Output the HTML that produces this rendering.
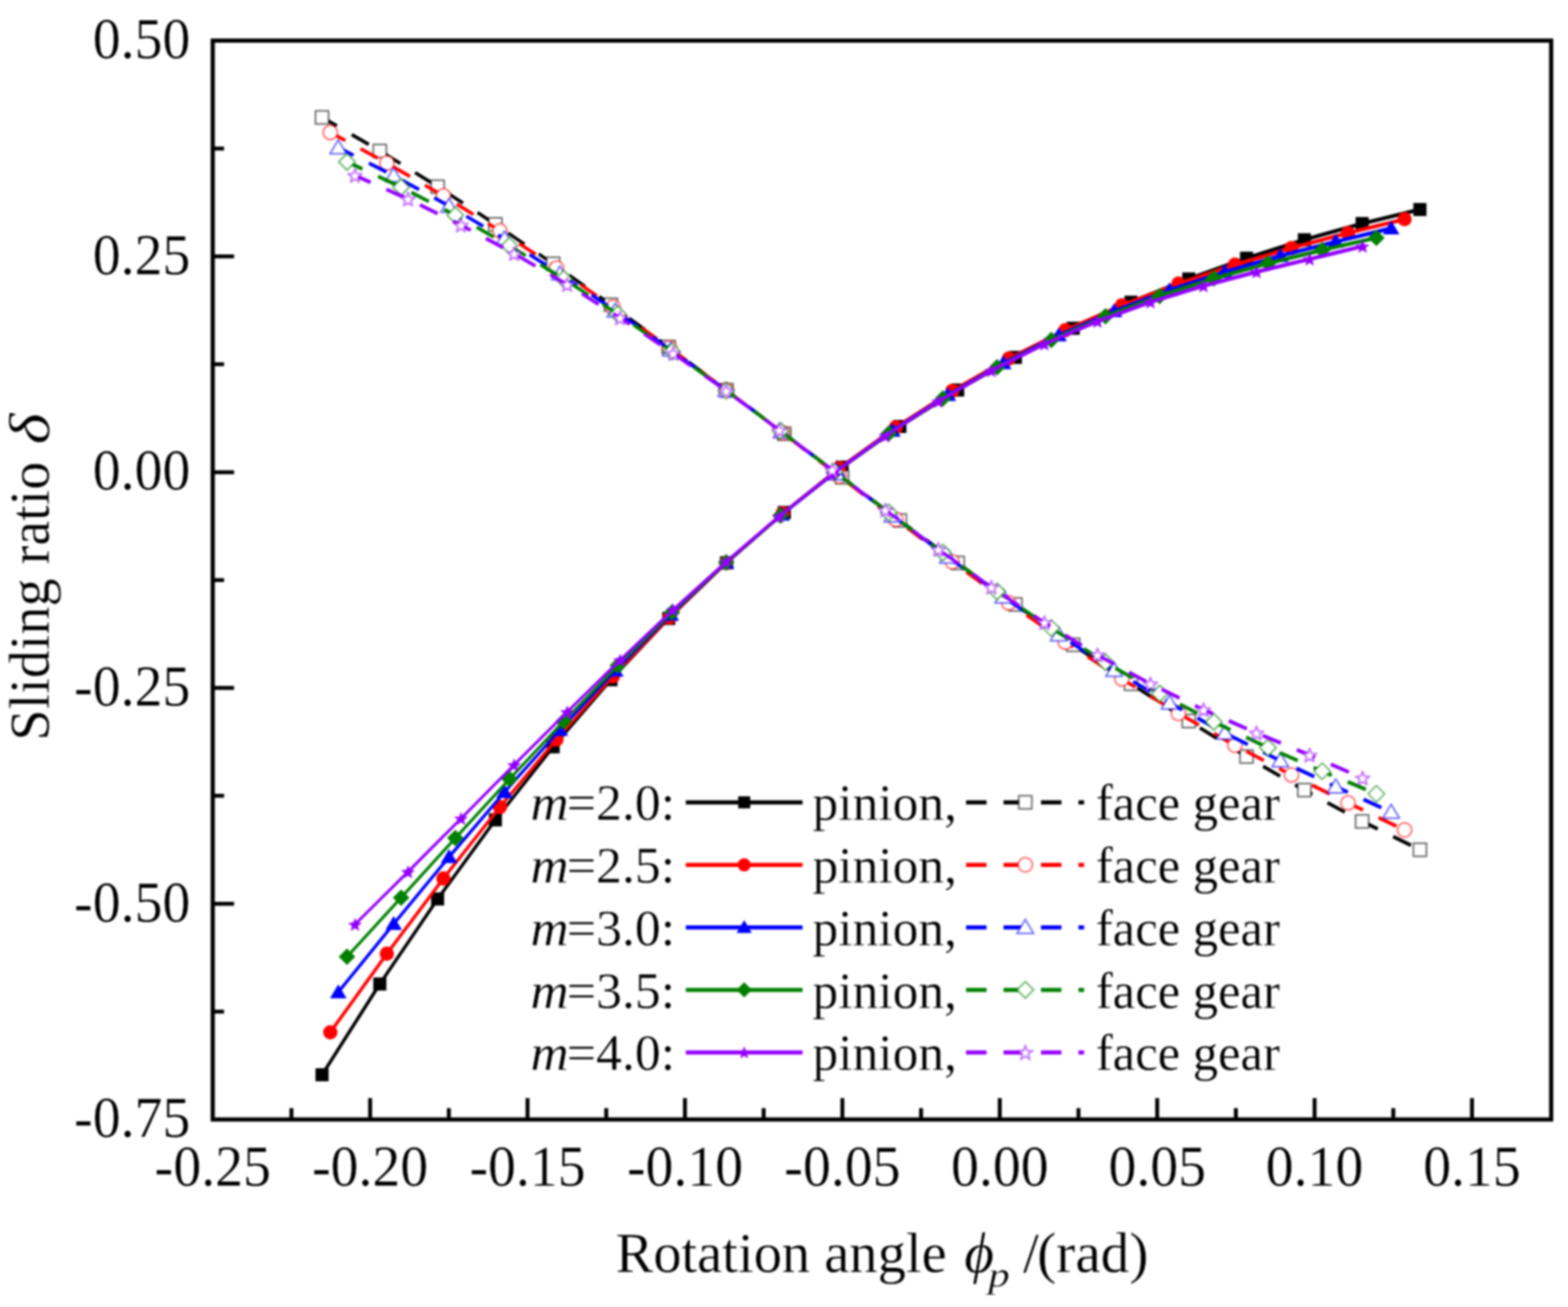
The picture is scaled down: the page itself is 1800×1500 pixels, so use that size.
<!DOCTYPE html>
<html lang="en"><head><meta charset="utf-8"><title>Sliding ratio vs rotation angle</title>
<style>html,body{margin:0;padding:0;background:#fff}body{width:1800px;height:1500px;overflow:hidden}svg{display:block;filter:blur(0.9px)}</style>
</head><body>
<svg width="1800" height="1500" viewBox="0 0 1800 1500">
<rect width="1800" height="1500" fill="#fff"/>
<g fill="none" stroke-linejoin="round">
<g stroke="#000000" stroke-linecap="butt"><path d="M369.7 1233.5L436 1129.3" stroke-width="3.88"/><path d="M436 1129.3L502.4 1031.7" stroke-width="3.8"/><path d="M502.4 1031.7L568.7 940.9" stroke-width="3.71"/><path d="M568.7 940.9L635 857.1" stroke-width="3.61"/><path d="M635 857.1L701.4 780.1" stroke-width="3.49"/><path d="M701.4 780.1L767.7 709.8" stroke-width="3.35"/><path d="M767.7 709.8L834 645.9" stroke-width="3.31"/><path d="M834 645.9L900.4 588.1" stroke-width="3.47"/><path d="M900.4 588.1L966.7 536.1" stroke-width="3.62"/><path d="M966.7 536.1L1033 489.4" stroke-width="3.76"/><path d="M1033 489.4L1099.3 447.6" stroke-width="3.89"/><path d="M1099.3 447.6L1165.7 410.2" stroke-width="4.01"/><path d="M1165.7 410.2L1232 376.7" stroke-width="4.11"/><path d="M1232 376.7L1298.3 346.8" stroke-width="4.19"/><path d="M1298.3 346.8L1364.7 320.1" stroke-width="4.27"/><path d="M1364.7 320.1L1431 296.3" stroke-width="4.33"/><path d="M1431 296.3L1497.3 275.2" stroke-width="4.38"/><path d="M1497.3 275.2L1563.7 256.6" stroke-width="4.43"/><path d="M1563.7 256.6L1630 240.4" stroke-width="4.47"/></g>
<rect x="362.2" y="1225.97" width="15" height="15" fill="#000000" stroke="none"/><rect x="428.53" y="1121.79" width="15" height="15" fill="#000000" stroke="none"/><rect x="494.86" y="1024.21" width="15" height="15" fill="#000000" stroke="none"/><rect x="561.19" y="933.45" width="15" height="15" fill="#000000" stroke="none"/><rect x="627.53" y="849.59" width="15" height="15" fill="#000000" stroke="none"/><rect x="693.86" y="772.58" width="15" height="15" fill="#000000" stroke="none"/><rect x="760.19" y="702.27" width="15" height="15" fill="#000000" stroke="none"/><rect x="826.52" y="638.39" width="15" height="15" fill="#000000" stroke="none"/><rect x="892.85" y="580.64" width="15" height="15" fill="#000000" stroke="none"/><rect x="959.18" y="528.63" width="15" height="15" fill="#000000" stroke="none"/><rect x="1025.52" y="481.93" width="15" height="15" fill="#000000" stroke="none"/><rect x="1091.85" y="440.09" width="15" height="15" fill="#000000" stroke="none"/><rect x="1158.18" y="402.67" width="15" height="15" fill="#000000" stroke="none"/><rect x="1224.51" y="369.23" width="15" height="15" fill="#000000" stroke="none"/><rect x="1290.84" y="339.34" width="15" height="15" fill="#000000" stroke="none"/><rect x="1357.17" y="312.64" width="15" height="15" fill="#000000" stroke="none"/><rect x="1423.51" y="288.83" width="15" height="15" fill="#000000" stroke="none"/><rect x="1489.84" y="267.68" width="15" height="15" fill="#000000" stroke="none"/><rect x="1556.17" y="249.05" width="15" height="15" fill="#000000" stroke="none"/><rect x="1622.5" y="232.95" width="15" height="15" fill="#000000" stroke="none"/>
<g stroke="#000000" stroke-linecap="butt"><path d="M369.7 134.6L436 173.1" stroke-width="3.98" stroke-dasharray="22.6 19.855" stroke-dashoffset="3"/><path d="M436 173.1L502.4 214.1" stroke-width="3.91" stroke-dasharray="22.6 19.855" stroke-dashoffset="37.25"/><path d="M502.4 214.1L568.7 257.4" stroke-width="3.85" stroke-dasharray="22.6 19.855" stroke-dashoffset="30.31"/><path d="M568.7 257.4L635 302.8" stroke-width="3.8" stroke-dasharray="22.6 19.855" stroke-dashoffset="24.61"/><path d="M635 302.8L701.4 349.9" stroke-width="3.75" stroke-dasharray="22.6 19.855" stroke-dashoffset="20.05"/><path d="M701.4 349.9L767.7 398.3" stroke-width="3.71" stroke-dasharray="22.6 19.855" stroke-dashoffset="16.49"/><path d="M767.7 398.3L834 447.7" stroke-width="3.69" stroke-dasharray="22.6 19.855" stroke-dashoffset="13.73"/><path d="M834 447.7L900.4 497.7" stroke-width="3.68" stroke-dasharray="22.6 19.855" stroke-dashoffset="11.54"/><path d="M900.4 497.7L966.7 547.7" stroke-width="3.67" stroke-dasharray="22.6 19.855" stroke-dashoffset="9.65"/><path d="M966.7 547.7L1033 597.3" stroke-width="3.68" stroke-dasharray="22.6 19.855" stroke-dashoffset="7.8"/><path d="M1033 597.3L1099.3 646.1" stroke-width="3.7" stroke-dasharray="22.6 19.855" stroke-dashoffset="5.72"/><path d="M1099.3 646.1L1165.7 693.8" stroke-width="3.73" stroke-dasharray="22.6 19.855" stroke-dashoffset="3.17"/><path d="M1165.7 693.8L1232 740.1" stroke-width="3.77" stroke-dasharray="22.6 19.855" stroke-dashoffset="42.41"/><path d="M1232 740.1L1298.3 784.7" stroke-width="3.82" stroke-dasharray="22.6 19.855" stroke-dashoffset="38.39"/><path d="M1298.3 784.7L1364.7 827.6" stroke-width="3.86" stroke-dasharray="22.6 19.855" stroke-dashoffset="33.45"/><path d="M1364.7 827.6L1431 868.4" stroke-width="3.92" stroke-dasharray="22.6 19.855" stroke-dashoffset="27.5"/><path d="M1431 868.4L1497.3 906.9" stroke-width="3.98" stroke-dasharray="22.6 19.855" stroke-dashoffset="20.46"/><path d="M1497.3 906.9L1563.7 942.6" stroke-width="4.05" stroke-dasharray="22.6 19.855" stroke-dashoffset="12.24"/><path d="M1563.7 942.6L1630 975.2" stroke-width="4.13" stroke-dasharray="22.6 19.855" stroke-dashoffset="2.7"/></g>
<rect x="362.2" y="127.13" width="15" height="15" fill="#fff" stroke="#000000" stroke-width="2" stroke-opacity="0.55"/><rect x="428.53" y="165.64" width="15" height="15" fill="#fff" stroke="#000000" stroke-width="2" stroke-opacity="0.55"/><rect x="494.86" y="206.63" width="15" height="15" fill="#fff" stroke="#000000" stroke-width="2" stroke-opacity="0.55"/><rect x="561.19" y="249.92" width="15" height="15" fill="#fff" stroke="#000000" stroke-width="2" stroke-opacity="0.55"/><rect x="627.53" y="295.26" width="15" height="15" fill="#fff" stroke="#000000" stroke-width="2" stroke-opacity="0.55"/><rect x="693.86" y="342.36" width="15" height="15" fill="#fff" stroke="#000000" stroke-width="2" stroke-opacity="0.55"/><rect x="760.19" y="390.83" width="15" height="15" fill="#fff" stroke="#000000" stroke-width="2" stroke-opacity="0.55"/><rect x="826.52" y="440.25" width="15" height="15" fill="#fff" stroke="#000000" stroke-width="2" stroke-opacity="0.55"/><rect x="892.85" y="490.18" width="15" height="15" fill="#fff" stroke="#000000" stroke-width="2" stroke-opacity="0.55"/><rect x="959.18" y="540.16" width="15" height="15" fill="#fff" stroke="#000000" stroke-width="2" stroke-opacity="0.55"/><rect x="1025.52" y="589.77" width="15" height="15" fill="#fff" stroke="#000000" stroke-width="2" stroke-opacity="0.55"/><rect x="1091.85" y="638.59" width="15" height="15" fill="#fff" stroke="#000000" stroke-width="2" stroke-opacity="0.55"/><rect x="1158.18" y="686.28" width="15" height="15" fill="#fff" stroke="#000000" stroke-width="2" stroke-opacity="0.55"/><rect x="1224.51" y="732.58" width="15" height="15" fill="#fff" stroke="#000000" stroke-width="2" stroke-opacity="0.55"/><rect x="1290.84" y="777.24" width="15" height="15" fill="#fff" stroke="#000000" stroke-width="2" stroke-opacity="0.55"/><rect x="1357.17" y="820.07" width="15" height="15" fill="#fff" stroke="#000000" stroke-width="2" stroke-opacity="0.55"/><rect x="1423.51" y="860.86" width="15" height="15" fill="#fff" stroke="#000000" stroke-width="2" stroke-opacity="0.55"/><rect x="1489.84" y="899.35" width="15" height="15" fill="#fff" stroke="#000000" stroke-width="2" stroke-opacity="0.55"/><rect x="1556.17" y="935.15" width="15" height="15" fill="#fff" stroke="#000000" stroke-width="2" stroke-opacity="0.55"/><rect x="1622.5" y="967.67" width="15" height="15" fill="#fff" stroke="#000000" stroke-width="2" stroke-opacity="0.55"/>
<g stroke="#ff0000" stroke-linecap="butt"><path d="M379.2 1184.7L444.1 1094.6" stroke-width="3.73"/><path d="M444.1 1094.6L509 1008.2" stroke-width="3.68"/><path d="M509 1008.2L573.9 926.2" stroke-width="3.61"/><path d="M573.9 926.2L638.8 848.7" stroke-width="3.53"/><path d="M638.8 848.7L703.7 776.1" stroke-width="3.43"/><path d="M703.7 776.1L768.6 708.6" stroke-width="3.32"/><path d="M768.6 708.6L833.5 646.2" stroke-width="3.32"/><path d="M833.5 646.2L898.4 589.1" stroke-width="3.45"/><path d="M898.4 589.1L963.3 537.2" stroke-width="3.59"/><path d="M963.3 537.2L1028.3 490.4" stroke-width="3.73"/><path d="M1028.3 490.4L1093.2 448.6" stroke-width="3.87"/><path d="M1093.2 448.6L1158.1 411.6" stroke-width="3.99"/><path d="M1158.1 411.6L1223 378.9" stroke-width="4.11"/><path d="M1223 378.9L1287.9 350.4" stroke-width="4.21"/><path d="M1287.9 350.4L1352.8 325.5" stroke-width="4.29"/><path d="M1352.8 325.5L1417.7 303.8" stroke-width="4.36"/><path d="M1417.7 303.8L1482.6 284.6" stroke-width="4.41"/><path d="M1482.6 284.6L1547.5 267.4" stroke-width="4.45"/><path d="M1547.5 267.4L1612.4 251.6" stroke-width="4.47"/></g>
<circle cx="379.2" cy="1184.74" r="8.2" fill="#ff0000" stroke="none"/><circle cx="444.11" cy="1094.57" r="8.2" fill="#ff0000" stroke="none"/><circle cx="509.01" cy="1008.24" r="8.2" fill="#ff0000" stroke="none"/><circle cx="573.92" cy="926.17" r="8.2" fill="#ff0000" stroke="none"/><circle cx="638.82" cy="848.7" r="8.2" fill="#ff0000" stroke="none"/><circle cx="703.73" cy="776.11" r="8.2" fill="#ff0000" stroke="none"/><circle cx="768.63" cy="708.58" r="8.2" fill="#ff0000" stroke="none"/><circle cx="833.54" cy="646.23" r="8.2" fill="#ff0000" stroke="none"/><circle cx="898.44" cy="589.12" r="8.2" fill="#ff0000" stroke="none"/><circle cx="963.35" cy="537.22" r="8.2" fill="#ff0000" stroke="none"/><circle cx="1028.25" cy="490.45" r="8.2" fill="#ff0000" stroke="none"/><circle cx="1093.16" cy="448.64" r="8.2" fill="#ff0000" stroke="none"/><circle cx="1158.06" cy="411.57" r="8.2" fill="#ff0000" stroke="none"/><circle cx="1222.97" cy="378.95" r="8.2" fill="#ff0000" stroke="none"/><circle cx="1287.87" cy="350.4" r="8.2" fill="#ff0000" stroke="none"/><circle cx="1352.78" cy="325.5" r="8.2" fill="#ff0000" stroke="none"/><circle cx="1417.68" cy="303.76" r="8.2" fill="#ff0000" stroke="none"/><circle cx="1482.59" cy="284.62" r="8.2" fill="#ff0000" stroke="none"/><circle cx="1547.49" cy="267.45" r="8.2" fill="#ff0000" stroke="none"/><circle cx="1612.4" cy="251.57" r="8.2" fill="#ff0000" stroke="none"/>
<g stroke="#ff0000" stroke-linecap="butt"><path d="M379.2 152L444.1 187.1" stroke-width="4.05" stroke-dasharray="22.6 19.855" stroke-dashoffset="3"/><path d="M444.1 187.1L509 224.8" stroke-width="3.98" stroke-dasharray="22.6 19.855" stroke-dashoffset="34.33"/><path d="M509 224.8L573.9 265" stroke-width="3.91" stroke-dasharray="22.6 19.855" stroke-dashoffset="24.47"/><path d="M573.9 265L638.8 307.6" stroke-width="3.85" stroke-dasharray="22.6 19.855" stroke-dashoffset="15.91"/><path d="M638.8 307.6L703.7 352.4" stroke-width="3.79" stroke-dasharray="22.6 19.855" stroke-dashoffset="8.64"/><path d="M703.7 352.4L768.6 399.2" stroke-width="3.73" stroke-dasharray="22.6 19.855" stroke-dashoffset="2.61"/><path d="M768.6 399.2L833.5 447.5" stroke-width="3.69" stroke-dasharray="22.6 19.855" stroke-dashoffset="40.15"/><path d="M833.5 447.5L898.4 496.8" stroke-width="3.66" stroke-dasharray="22.6 19.855" stroke-dashoffset="36.13"/><path d="M898.4 496.8L963.3 546.6" stroke-width="3.65" stroke-dasharray="22.6 19.855" stroke-dashoffset="32.74"/><path d="M963.3 546.6L1028.3 596.1" stroke-width="3.66" stroke-dasharray="22.6 19.855" stroke-dashoffset="29.62"/><path d="M1028.3 596.1L1093.2 644.8" stroke-width="3.68" stroke-dasharray="22.6 19.855" stroke-dashoffset="26.37"/><path d="M1093.2 644.8L1158.1 691.9" stroke-width="3.72" stroke-dasharray="22.6 19.855" stroke-dashoffset="22.59"/><path d="M1158.1 691.9L1223 736.9" stroke-width="3.78" stroke-dasharray="22.6 19.855" stroke-dashoffset="17.89"/><path d="M1223 736.9L1287.9 779.2" stroke-width="3.85" stroke-dasharray="22.6 19.855" stroke-dashoffset="11.94"/><path d="M1287.9 779.2L1352.8 818.7" stroke-width="3.93" stroke-dasharray="22.6 19.855" stroke-dashoffset="4.53"/><path d="M1352.8 818.7L1417.7 855.4" stroke-width="4.01" stroke-dasharray="22.6 19.855" stroke-dashoffset="38.05"/><path d="M1417.7 855.4L1482.6 889.4" stroke-width="4.07" stroke-dasharray="22.6 19.855" stroke-dashoffset="27.66"/><path d="M1482.6 889.4L1547.5 921.5" stroke-width="4.12" stroke-dasharray="22.6 19.855" stroke-dashoffset="16.05"/><path d="M1547.5 921.5L1612.4 952.6" stroke-width="4.15" stroke-dasharray="22.6 19.855" stroke-dashoffset="3.54"/></g>
<circle cx="379.2" cy="152.03" r="8.2" fill="#fff" stroke="#ff0000" stroke-width="2" stroke-opacity="0.55"/><circle cx="444.11" cy="187.13" r="8.2" fill="#fff" stroke="#ff0000" stroke-width="2" stroke-opacity="0.55"/><circle cx="509.01" cy="224.8" r="8.2" fill="#fff" stroke="#ff0000" stroke-width="2" stroke-opacity="0.55"/><circle cx="573.92" cy="265.01" r="8.2" fill="#fff" stroke="#ff0000" stroke-width="2" stroke-opacity="0.55"/><circle cx="638.82" cy="307.62" r="8.2" fill="#fff" stroke="#ff0000" stroke-width="2" stroke-opacity="0.55"/><circle cx="703.73" cy="352.44" r="8.2" fill="#fff" stroke="#ff0000" stroke-width="2" stroke-opacity="0.55"/><circle cx="768.63" cy="399.19" r="8.2" fill="#fff" stroke="#ff0000" stroke-width="2" stroke-opacity="0.55"/><circle cx="833.54" cy="447.47" r="8.2" fill="#fff" stroke="#ff0000" stroke-width="2" stroke-opacity="0.55"/><circle cx="898.44" cy="496.79" r="8.2" fill="#fff" stroke="#ff0000" stroke-width="2" stroke-opacity="0.55"/><circle cx="963.35" cy="546.56" r="8.2" fill="#fff" stroke="#ff0000" stroke-width="2" stroke-opacity="0.55"/><circle cx="1028.25" cy="596.13" r="8.2" fill="#fff" stroke="#ff0000" stroke-width="2" stroke-opacity="0.55"/><circle cx="1093.16" cy="644.8" r="8.2" fill="#fff" stroke="#ff0000" stroke-width="2" stroke-opacity="0.55"/><circle cx="1158.06" cy="691.92" r="8.2" fill="#fff" stroke="#ff0000" stroke-width="2" stroke-opacity="0.55"/><circle cx="1222.97" cy="736.89" r="8.2" fill="#fff" stroke="#ff0000" stroke-width="2" stroke-opacity="0.55"/><circle cx="1287.87" cy="779.25" r="8.2" fill="#fff" stroke="#ff0000" stroke-width="2" stroke-opacity="0.55"/><circle cx="1352.78" cy="818.74" r="8.2" fill="#fff" stroke="#ff0000" stroke-width="2" stroke-opacity="0.55"/><circle cx="1417.68" cy="855.36" r="8.2" fill="#fff" stroke="#ff0000" stroke-width="2" stroke-opacity="0.55"/><circle cx="1482.59" cy="889.4" r="8.2" fill="#fff" stroke="#ff0000" stroke-width="2" stroke-opacity="0.55"/><circle cx="1547.49" cy="921.48" r="8.2" fill="#fff" stroke="#ff0000" stroke-width="2" stroke-opacity="0.55"/><circle cx="1612.4" cy="952.55" r="8.2" fill="#fff" stroke="#ff0000" stroke-width="2" stroke-opacity="0.55"/>
<g stroke="#0000ff" stroke-linecap="butt"><path d="M388.3 1138.7L451.9 1060.3" stroke-width="3.57"/><path d="M451.9 1060.3L515.5 983.5" stroke-width="3.54"/><path d="M515.5 983.5L579.1 909.1" stroke-width="3.5"/><path d="M579.1 909.1L642.8 837.6" stroke-width="3.44"/><path d="M642.8 837.6L706.4 769.6" stroke-width="3.36"/><path d="M706.4 769.6L770 705.5" stroke-width="3.26"/><path d="M770 705.5L833.6 645.7" stroke-width="3.35"/><path d="M833.6 645.7L897.2 590.5" stroke-width="3.47"/><path d="M897.2 590.5L960.8 539.9" stroke-width="3.6"/><path d="M960.8 539.9L1024.5 494.2" stroke-width="3.73"/><path d="M1024.5 494.2L1088.1 453.2" stroke-width="3.87"/><path d="M1088.1 453.2L1151.7 416.8" stroke-width="3.99"/><path d="M1151.7 416.8L1215.3 384.9" stroke-width="4.11"/><path d="M1215.3 384.9L1278.9 357" stroke-width="4.21"/><path d="M1278.9 357L1342.5 332.9" stroke-width="4.3"/><path d="M1342.5 332.9L1406.2 312" stroke-width="4.37"/><path d="M1406.2 312L1469.8 293.7" stroke-width="4.42"/><path d="M1469.8 293.7L1533.4 277.3" stroke-width="4.45"/><path d="M1533.4 277.3L1597 262" stroke-width="4.47"/></g>
<polygon points="388.3,1129.71 397.8,1145.71 378.8,1145.71" fill="#0000ff" stroke="none"/><polygon points="451.92,1051.31 461.42,1067.31 442.42,1067.31" fill="#0000ff" stroke="none"/><polygon points="515.53,974.53 525.03,990.53 506.03,990.53" fill="#0000ff" stroke="none"/><polygon points="579.15,900.07 588.65,916.07 569.65,916.07" fill="#0000ff" stroke="none"/><polygon points="642.76,828.56 652.26,844.56 633.26,844.56" fill="#0000ff" stroke="none"/><polygon points="706.38,760.55 715.88,776.55 696.88,776.55" fill="#0000ff" stroke="none"/><polygon points="769.99,696.48 779.49,712.48 760.49,712.48" fill="#0000ff" stroke="none"/><polygon points="833.61,636.7 843.11,652.7 824.11,652.7" fill="#0000ff" stroke="none"/><polygon points="897.23,581.47 906.73,597.47 887.73,597.47" fill="#0000ff" stroke="none"/><polygon points="960.84,530.94 970.34,546.94 951.34,546.94" fill="#0000ff" stroke="none"/><polygon points="1024.46,485.19 1033.96,501.19 1014.96,501.19" fill="#0000ff" stroke="none"/><polygon points="1088.07,444.19 1097.57,460.19 1078.57,460.19" fill="#0000ff" stroke="none"/><polygon points="1151.69,407.82 1161.19,423.82 1142.19,423.82" fill="#0000ff" stroke="none"/><polygon points="1215.31,375.87 1224.81,391.87 1205.81,391.87" fill="#0000ff" stroke="none"/><polygon points="1278.92,348.03 1288.42,364.03 1269.42,364.03" fill="#0000ff" stroke="none"/><polygon points="1342.54,323.9 1352.04,339.9 1333.04,339.9" fill="#0000ff" stroke="none"/><polygon points="1406.15,302.97 1415.65,318.97 1396.65,318.97" fill="#0000ff" stroke="none"/><polygon points="1469.77,284.66 1479.27,300.66 1460.27,300.66" fill="#0000ff" stroke="none"/><polygon points="1533.38,268.27 1542.88,284.27 1523.88,284.27" fill="#0000ff" stroke="none"/><polygon points="1597,253.01 1606.5,269.01 1587.5,269.01" fill="#0000ff" stroke="none"/>
<g stroke="#0000ff" stroke-linecap="butt"><path d="M388.3 169.4L451.9 201.6" stroke-width="4.11" stroke-dasharray="22.6 19.855" stroke-dashoffset="3"/><path d="M451.9 201.6L515.5 236.4" stroke-width="4.03" stroke-dasharray="22.6 19.855" stroke-dashoffset="31.81"/><path d="M515.5 236.4L579.1 274" stroke-width="3.96" stroke-dasharray="22.6 19.855" stroke-dashoffset="19.44"/><path d="M579.1 274L642.8 314.2" stroke-width="3.89" stroke-dasharray="22.6 19.855" stroke-dashoffset="8.41"/><path d="M642.8 314.2L706.4 356.8" stroke-width="3.82" stroke-dasharray="22.6 19.855" stroke-dashoffset="41.2"/><path d="M706.4 356.8L770 401.5" stroke-width="3.76" stroke-dasharray="22.6 19.855" stroke-dashoffset="32.84"/><path d="M770 401.5L833.6 447.9" stroke-width="3.72" stroke-dasharray="22.6 19.855" stroke-dashoffset="25.69"/><path d="M833.6 447.9L897.2 495.6" stroke-width="3.68" stroke-dasharray="22.6 19.855" stroke-dashoffset="19.54"/><path d="M897.2 495.6L960.8 543.8" stroke-width="3.66" stroke-dasharray="22.6 19.855" stroke-dashoffset="14.12"/><path d="M960.8 543.8L1024.5 592" stroke-width="3.67" stroke-dasharray="22.6 19.855" stroke-dashoffset="9.06"/><path d="M1024.5 592L1088.1 639.3" stroke-width="3.69" stroke-dasharray="22.6 19.855" stroke-dashoffset="3.94"/><path d="M1088.1 639.3L1151.7 685" stroke-width="3.74" stroke-dasharray="22.6 19.855" stroke-dashoffset="40.76"/><path d="M1151.7 685L1215.3 728.5" stroke-width="3.8" stroke-dasharray="22.6 19.855" stroke-dashoffset="34.19"/><path d="M1215.3 728.5L1278.9 769.1" stroke-width="3.88" stroke-dasharray="22.6 19.855" stroke-dashoffset="26.32"/><path d="M1278.9 769.1L1342.5 806.7" stroke-width="3.96" stroke-dasharray="22.6 19.855" stroke-dashoffset="16.91"/><path d="M1342.5 806.7L1406.2 841.3" stroke-width="4.04" stroke-dasharray="22.6 19.855" stroke-dashoffset="5.9"/><path d="M1406.2 841.3L1469.8 873.1" stroke-width="4.11" stroke-dasharray="22.6 19.855" stroke-dashoffset="35.83"/><path d="M1469.8 873.1L1533.4 902.9" stroke-width="4.16" stroke-dasharray="22.6 19.855" stroke-dashoffset="22.06"/><path d="M1533.4 902.9L1597 932" stroke-width="4.19" stroke-dasharray="22.6 19.855" stroke-dashoffset="7.42"/></g>
<polygon points="388.3,160.45 397.8,176.45 378.8,176.45" fill="#fff" stroke="#0000ff" stroke-width="2" stroke-opacity="0.55"/><polygon points="451.92,192.56 461.42,208.56 442.42,208.56" fill="#fff" stroke="#0000ff" stroke-width="2" stroke-opacity="0.55"/><polygon points="515.53,227.42 525.03,243.42 506.03,243.42" fill="#fff" stroke="#0000ff" stroke-width="2" stroke-opacity="0.55"/><polygon points="579.15,265 588.65,281 569.65,281" fill="#fff" stroke="#0000ff" stroke-width="2" stroke-opacity="0.55"/><polygon points="642.76,305.17 652.26,321.17 633.26,321.17" fill="#fff" stroke="#0000ff" stroke-width="2" stroke-opacity="0.55"/><polygon points="706.38,347.76 715.88,363.76 696.88,363.76" fill="#fff" stroke="#0000ff" stroke-width="2" stroke-opacity="0.55"/><polygon points="769.99,392.47 779.49,408.47 760.49,408.47" fill="#fff" stroke="#0000ff" stroke-width="2" stroke-opacity="0.55"/><polygon points="833.61,438.91 843.11,454.91 824.11,454.91" fill="#fff" stroke="#0000ff" stroke-width="2" stroke-opacity="0.55"/><polygon points="897.23,486.57 906.73,502.57 887.73,502.57" fill="#fff" stroke="#0000ff" stroke-width="2" stroke-opacity="0.55"/><polygon points="960.84,534.83 970.34,550.83 951.34,550.83" fill="#fff" stroke="#0000ff" stroke-width="2" stroke-opacity="0.55"/><polygon points="1024.46,582.99 1033.96,598.99 1014.96,598.99" fill="#fff" stroke="#0000ff" stroke-width="2" stroke-opacity="0.55"/><polygon points="1088.07,630.3 1097.57,646.3 1078.57,646.3" fill="#fff" stroke="#0000ff" stroke-width="2" stroke-opacity="0.55"/><polygon points="1151.69,676.01 1161.19,692.01 1142.19,692.01" fill="#fff" stroke="#0000ff" stroke-width="2" stroke-opacity="0.55"/><polygon points="1215.31,719.46 1224.81,735.46 1205.81,735.46" fill="#fff" stroke="#0000ff" stroke-width="2" stroke-opacity="0.55"/><polygon points="1278.92,760.13 1288.42,776.13 1269.42,776.13" fill="#fff" stroke="#0000ff" stroke-width="2" stroke-opacity="0.55"/><polygon points="1342.54,797.74 1352.04,813.74 1333.04,813.74" fill="#fff" stroke="#0000ff" stroke-width="2" stroke-opacity="0.55"/><polygon points="1406.15,832.27 1415.65,848.27 1396.65,848.27" fill="#fff" stroke="#0000ff" stroke-width="2" stroke-opacity="0.55"/><polygon points="1469.77,864.1 1479.27,880.1 1460.27,880.1" fill="#fff" stroke="#0000ff" stroke-width="2" stroke-opacity="0.55"/><polygon points="1533.38,893.95 1542.88,909.95 1523.88,909.95" fill="#fff" stroke="#0000ff" stroke-width="2" stroke-opacity="0.55"/><polygon points="1597,922.97 1606.5,938.97 1587.5,938.97" fill="#fff" stroke="#0000ff" stroke-width="2" stroke-opacity="0.55"/>
<g stroke="#008000" stroke-linecap="butt"><path d="M398.3 1098.1L460.5 1030.2" stroke-width="3.39"/><path d="M460.5 1030.2L522.7 961.8" stroke-width="3.4"/><path d="M522.7 961.8L584.9 894.1" stroke-width="3.39"/><path d="M584.9 894.1L647.1 827.8" stroke-width="3.35"/><path d="M647.1 827.8L709.3 763.8" stroke-width="3.3"/><path d="M709.3 763.8L771.5 702.8" stroke-width="3.28"/><path d="M771.5 702.8L833.7 645.3" stroke-width="3.38"/><path d="M833.7 645.3L895.9 591.7" stroke-width="3.49"/><path d="M895.9 591.7L958.1 542.4" stroke-width="3.6"/><path d="M958.1 542.4L1020.2 497.6" stroke-width="3.73"/><path d="M1020.2 497.6L1082.4 457.3" stroke-width="3.86"/><path d="M1082.4 457.3L1144.6 421.6" stroke-width="3.99"/><path d="M1144.6 421.6L1206.8 390.3" stroke-width="4.11"/><path d="M1206.8 390.3L1269 363.1" stroke-width="4.21"/><path d="M1269 363.1L1331.2 339.7" stroke-width="4.31"/><path d="M1331.2 339.7L1393.4 319.6" stroke-width="4.38"/><path d="M1393.4 319.6L1455.6 302.3" stroke-width="4.43"/><path d="M1455.6 302.3L1517.8 287" stroke-width="4.47"/><path d="M1517.8 287L1580 272.9" stroke-width="4.49"/></g>
<polygon points="398.3,1088.57 407.8,1098.07 398.3,1107.57 388.8,1098.07" fill="#008000" stroke="none"/><polygon points="460.49,1020.66 469.99,1030.16 460.49,1039.66 450.99,1030.16" fill="#008000" stroke="none"/><polygon points="522.69,952.31 532.19,961.81 522.69,971.31 513.19,961.81" fill="#008000" stroke="none"/><polygon points="584.88,884.55 594.38,894.05 584.88,903.55 575.38,894.05" fill="#008000" stroke="none"/><polygon points="647.08,818.29 656.58,827.79 647.08,837.29 637.58,827.79" fill="#008000" stroke="none"/><polygon points="709.27,754.32 718.77,763.82 709.27,773.32 699.77,763.82" fill="#008000" stroke="none"/><polygon points="771.47,693.3 780.97,702.8 771.47,712.3 761.97,702.8" fill="#008000" stroke="none"/><polygon points="833.66,635.79 843.16,645.29 833.66,654.79 824.16,645.29" fill="#008000" stroke="none"/><polygon points="895.86,582.23 905.36,591.73 895.86,601.23 886.36,591.73" fill="#008000" stroke="none"/><polygon points="958.05,532.93 967.55,542.43 958.05,551.93 948.55,542.43" fill="#008000" stroke="none"/><polygon points="1020.25,488.09 1029.75,497.59 1020.25,507.09 1010.75,497.59" fill="#008000" stroke="none"/><polygon points="1082.44,447.82 1091.94,457.32 1082.44,466.82 1072.94,457.32" fill="#008000" stroke="none"/><polygon points="1144.64,412.09 1154.14,421.59 1144.64,431.09 1135.14,421.59" fill="#008000" stroke="none"/><polygon points="1206.83,380.75 1216.33,390.25 1206.83,399.75 1197.33,390.25" fill="#008000" stroke="none"/><polygon points="1269.03,353.57 1278.53,363.07 1269.03,372.57 1259.53,363.07" fill="#008000" stroke="none"/><polygon points="1331.22,330.17 1340.72,339.67 1331.22,349.17 1321.72,339.67" fill="#008000" stroke="none"/><polygon points="1393.42,310.09 1402.92,319.59 1393.42,329.09 1383.92,319.59" fill="#008000" stroke="none"/><polygon points="1455.61,292.76 1465.11,302.26 1455.61,311.76 1446.11,302.26" fill="#008000" stroke="none"/><polygon points="1517.81,277.46 1527.31,286.96 1517.81,296.46 1508.31,286.96" fill="#008000" stroke="none"/><polygon points="1580,263.42 1589.5,272.92 1580,282.42 1570.5,272.92" fill="#008000" stroke="none"/>
<g stroke="#008000" stroke-linecap="butt"><path d="M398.3 185.7L460.5 214.8" stroke-width="4.17" stroke-dasharray="22.6 19.855" stroke-dashoffset="3"/><path d="M460.5 214.8L522.7 247" stroke-width="4.09" stroke-dasharray="22.6 19.855" stroke-dashoffset="29.22"/><path d="M522.7 247L584.9 282.1" stroke-width="4.01" stroke-dasharray="22.6 19.855" stroke-dashoffset="14.33"/><path d="M584.9 282.1L647.1 320" stroke-width="3.93" stroke-dasharray="22.6 19.855" stroke-dashoffset="0.84"/><path d="M647.1 320L709.3 360.6" stroke-width="3.85" stroke-dasharray="22.6 19.855" stroke-dashoffset="31.23"/><path d="M709.3 360.6L771.5 403.4" stroke-width="3.79" stroke-dasharray="22.6 19.855" stroke-dashoffset="20.57"/><path d="M771.5 403.4L833.7 448.2" stroke-width="3.73" stroke-dasharray="22.6 19.855" stroke-dashoffset="11.21"/><path d="M833.7 448.2L895.9 494.4" stroke-width="3.69" stroke-dasharray="22.6 19.855" stroke-dashoffset="2.94"/><path d="M895.9 494.4L958.1 541.3" stroke-width="3.67" stroke-dasharray="22.6 19.855" stroke-dashoffset="37.95"/><path d="M958.1 541.3L1020.2 588.2" stroke-width="3.67" stroke-dasharray="22.6 19.855" stroke-dashoffset="30.95"/><path d="M1020.2 588.2L1082.4 634.3" stroke-width="3.7" stroke-dasharray="22.6 19.855" stroke-dashoffset="23.93"/><path d="M1082.4 634.3L1144.6 678.8" stroke-width="3.74" stroke-dasharray="22.6 19.855" stroke-dashoffset="16.43"/><path d="M1144.6 678.8L1206.8 720.9" stroke-width="3.81" stroke-dasharray="22.6 19.855" stroke-dashoffset="7.98"/><path d="M1206.8 720.9L1269 760.1" stroke-width="3.89" stroke-dasharray="22.6 19.855" stroke-dashoffset="40.64"/><path d="M1269 760.1L1331.2 796" stroke-width="3.98" stroke-dasharray="22.6 19.855" stroke-dashoffset="29.23"/><path d="M1331.2 796L1393.4 828.5" stroke-width="4.08" stroke-dasharray="22.6 19.855" stroke-dashoffset="16.12"/><path d="M1393.4 828.5L1455.6 858" stroke-width="4.16" stroke-dasharray="22.6 19.855" stroke-dashoffset="1.39"/><path d="M1455.6 858L1517.8 885.1" stroke-width="4.22" stroke-dasharray="22.6 19.855" stroke-dashoffset="27.77"/><path d="M1517.8 885.1L1580 911.1" stroke-width="4.25" stroke-dasharray="22.6 19.855" stroke-dashoffset="10.73"/></g>
<polygon points="398.3,176.19 407.8,185.69 398.3,195.19 388.8,185.69" fill="#fff" stroke="#008000" stroke-width="2" stroke-opacity="0.55"/><polygon points="460.49,205.32 469.99,214.82 460.49,224.32 450.99,214.82" fill="#fff" stroke="#008000" stroke-width="2" stroke-opacity="0.55"/><polygon points="522.69,237.47 532.19,246.97 522.69,256.47 513.19,246.97" fill="#fff" stroke="#008000" stroke-width="2" stroke-opacity="0.55"/><polygon points="584.88,272.58 594.38,282.08 584.88,291.58 575.38,282.08" fill="#fff" stroke="#008000" stroke-width="2" stroke-opacity="0.55"/><polygon points="647.08,310.51 656.58,320.01 647.08,329.51 637.58,320.01" fill="#fff" stroke="#008000" stroke-width="2" stroke-opacity="0.55"/><polygon points="709.27,351.07 718.77,360.57 709.27,370.07 699.77,360.57" fill="#fff" stroke="#008000" stroke-width="2" stroke-opacity="0.55"/><polygon points="771.47,393.95 780.97,403.45 771.47,412.95 761.97,403.45" fill="#fff" stroke="#008000" stroke-width="2" stroke-opacity="0.55"/><polygon points="833.66,438.75 843.16,448.25 833.66,457.75 824.16,448.25" fill="#fff" stroke="#008000" stroke-width="2" stroke-opacity="0.55"/><polygon points="895.86,484.92 905.36,494.42 895.86,503.92 886.36,494.42" fill="#fff" stroke="#008000" stroke-width="2" stroke-opacity="0.55"/><polygon points="958.05,531.84 967.55,541.34 958.05,550.84 948.55,541.34" fill="#fff" stroke="#008000" stroke-width="2" stroke-opacity="0.55"/><polygon points="1020.25,578.74 1029.75,588.24 1020.25,597.74 1010.75,588.24" fill="#fff" stroke="#008000" stroke-width="2" stroke-opacity="0.55"/><polygon points="1082.44,624.83 1091.94,634.33 1082.44,643.83 1072.94,634.33" fill="#fff" stroke="#008000" stroke-width="2" stroke-opacity="0.55"/><polygon points="1144.64,669.3 1154.14,678.8 1144.64,688.3 1135.14,678.8" fill="#fff" stroke="#008000" stroke-width="2" stroke-opacity="0.55"/><polygon points="1206.83,711.41 1216.33,720.91 1206.83,730.41 1197.33,720.91" fill="#fff" stroke="#008000" stroke-width="2" stroke-opacity="0.55"/><polygon points="1269.03,750.58 1278.53,760.08 1269.03,769.58 1259.53,760.08" fill="#fff" stroke="#008000" stroke-width="2" stroke-opacity="0.55"/><polygon points="1331.22,786.45 1340.72,795.95 1331.22,805.45 1321.72,795.95" fill="#fff" stroke="#008000" stroke-width="2" stroke-opacity="0.55"/><polygon points="1393.42,818.98 1402.92,828.48 1393.42,837.98 1383.92,828.48" fill="#fff" stroke="#008000" stroke-width="2" stroke-opacity="0.55"/><polygon points="1455.61,848.47 1465.11,857.97 1455.61,867.47 1446.11,857.97" fill="#fff" stroke="#008000" stroke-width="2" stroke-opacity="0.55"/><polygon points="1517.81,875.63 1527.31,885.13 1517.81,894.63 1508.31,885.13" fill="#fff" stroke="#008000" stroke-width="2" stroke-opacity="0.55"/><polygon points="1580,901.59 1589.5,911.09 1580,920.59 1570.5,911.09" fill="#fff" stroke="#008000" stroke-width="2" stroke-opacity="0.55"/>
<g stroke="#9400ff" stroke-linecap="butt"><path d="M407.5 1060.9L468.4 1000.5" stroke-width="3.26"/><path d="M468.4 1000.5L529.3 939.3" stroke-width="3.26"/><path d="M529.3 939.3L590.1 877.9" stroke-width="3.27"/><path d="M590.1 877.9L651 817.1" stroke-width="3.25"/><path d="M651 817.1L711.9 757.5" stroke-width="3.29"/><path d="M711.9 757.5L772.8 699.8" stroke-width="3.34"/><path d="M772.8 699.8L833.7 644.7" stroke-width="3.41"/><path d="M833.7 644.7L894.5 592.7" stroke-width="3.5"/><path d="M894.5 592.7L955.4 544.5" stroke-width="3.6"/><path d="M955.4 544.5L1016.3 500.3" stroke-width="3.72"/><path d="M1016.3 500.3L1077.2 460.5" stroke-width="3.85"/><path d="M1077.2 460.5L1138 425.4" stroke-width="3.98"/><path d="M1138 425.4L1198.9 394.9" stroke-width="4.11"/><path d="M1198.9 394.9L1259.8 368.8" stroke-width="4.23"/><path d="M1259.8 368.8L1320.7 346.7" stroke-width="4.32"/><path d="M1320.7 346.7L1381.6 328.1" stroke-width="4.4"/><path d="M1381.6 328.1L1442.4 312" stroke-width="4.45"/><path d="M1442.4 312L1503.3 297.4" stroke-width="4.47"/><path d="M1503.3 297.4L1564.2 282.7" stroke-width="4.47"/></g>
<polygon points="407.5,1053.33 409.62,1058.82 415.49,1059.13 410.92,1062.84 412.44,1068.53 407.5,1065.33 402.56,1068.53 404.08,1062.84 399.51,1059.13 405.38,1058.82" fill="#9400ff" stroke="none"/><polygon points="468.38,992.89 470.49,998.37 476.37,998.69 471.8,1002.4 473.32,1008.08 468.38,1004.89 463.44,1008.08 464.96,1002.4 460.39,998.69 466.26,998.37" fill="#9400ff" stroke="none"/><polygon points="529.26,931.67 531.37,937.16 537.25,937.48 532.68,941.19 534.2,946.87 529.26,943.67 524.32,946.87 525.83,941.19 521.27,937.48 527.14,937.16" fill="#9400ff" stroke="none"/><polygon points="590.14,870.33 592.25,875.81 598.13,876.13 593.56,879.84 595.07,885.52 590.14,882.33 585.2,885.52 586.71,879.84 582.15,876.13 588.02,875.81" fill="#9400ff" stroke="none"/><polygon points="651.02,809.51 653.13,815 659,815.32 654.44,819.03 655.95,824.71 651.02,821.51 646.08,824.71 647.59,819.03 643.03,815.32 648.9,815" fill="#9400ff" stroke="none"/><polygon points="711.89,749.93 714.01,755.41 719.88,755.73 715.32,759.44 716.83,765.12 711.89,761.93 706.96,765.12 708.47,759.44 703.91,755.73 709.78,755.41" fill="#9400ff" stroke="none"/><polygon points="772.77,692.24 774.89,697.73 780.76,698.04 776.2,701.75 777.71,707.44 772.77,704.24 767.84,707.44 769.35,701.75 764.78,698.04 770.66,697.73" fill="#9400ff" stroke="none"/><polygon points="833.65,637.11 835.77,642.6 841.64,642.92 837.08,646.62 838.59,652.31 833.65,649.11 828.72,652.31 830.23,646.62 825.66,642.92 831.54,642.6" fill="#9400ff" stroke="none"/><polygon points="894.53,585.14 896.65,590.63 902.52,590.94 897.96,594.65 899.47,600.34 894.53,597.14 889.59,600.34 891.11,594.65 886.54,590.94 892.42,590.63" fill="#9400ff" stroke="none"/><polygon points="955.41,536.85 957.53,542.34 963.4,542.66 958.83,546.37 960.35,552.05 955.41,548.85 950.47,552.05 951.99,546.37 947.42,542.66 953.29,542.34" fill="#9400ff" stroke="none"/><polygon points="1016.29,492.68 1018.41,498.17 1024.28,498.49 1019.71,502.19 1021.23,507.88 1016.29,504.68 1011.35,507.88 1012.87,502.19 1008.3,498.49 1014.17,498.17" fill="#9400ff" stroke="none"/><polygon points="1077.17,452.94 1079.28,458.43 1085.16,458.74 1080.59,462.45 1082.11,468.14 1077.17,464.94 1072.23,468.14 1073.74,462.45 1069.18,458.74 1075.05,458.43" fill="#9400ff" stroke="none"/><polygon points="1138.05,417.8 1140.16,423.29 1146.04,423.6 1141.47,427.31 1142.98,432.99 1138.05,429.8 1133.11,432.99 1134.62,427.31 1130.06,423.6 1135.93,423.29" fill="#9400ff" stroke="none"/><polygon points="1198.93,387.27 1201.04,392.75 1206.92,393.07 1202.35,396.78 1203.86,402.46 1198.93,399.27 1193.99,402.46 1195.5,396.78 1190.94,393.07 1196.81,392.75" fill="#9400ff" stroke="none"/><polygon points="1259.81,361.16 1261.92,366.65 1267.79,366.97 1263.23,370.68 1264.74,376.36 1259.81,373.16 1254.87,376.36 1256.38,370.68 1251.82,366.97 1257.69,366.65" fill="#9400ff" stroke="none"/><polygon points="1320.68,339.11 1322.8,344.6 1328.67,344.91 1324.11,348.62 1325.62,354.31 1320.68,351.11 1315.75,354.31 1317.26,348.62 1312.7,344.91 1318.57,344.6" fill="#9400ff" stroke="none"/><polygon points="1381.56,320.48 1383.68,325.97 1389.55,326.29 1384.99,330 1386.5,335.68 1381.56,332.48 1376.63,335.68 1378.14,330 1373.57,326.29 1379.45,325.97" fill="#9400ff" stroke="none"/><polygon points="1442.44,304.42 1444.56,309.91 1450.43,310.22 1445.87,313.93 1447.38,319.61 1442.44,316.42 1437.5,319.61 1439.02,313.93 1434.45,310.22 1440.33,309.91" fill="#9400ff" stroke="none"/><polygon points="1503.32,289.77 1505.44,295.25 1511.31,295.57 1506.74,299.28 1508.26,304.96 1503.32,301.77 1498.38,304.96 1499.9,299.28 1495.33,295.57 1501.21,295.25" fill="#9400ff" stroke="none"/><polygon points="1564.2,275.09 1566.32,280.57 1572.19,280.89 1567.62,284.6 1569.14,290.28 1564.2,287.09 1559.26,290.28 1560.78,284.6 1556.21,280.89 1562.08,280.57" fill="#9400ff" stroke="none"/>
<g stroke="#9400ff" stroke-linecap="butt"><path d="M407.5 201.3L468.4 228.4" stroke-width="4.2" stroke-dasharray="22.6 19.855" stroke-dashoffset="3"/><path d="M468.4 228.4L529.3 258.3" stroke-width="4.13" stroke-dasharray="22.6 19.855" stroke-dashoffset="27.19"/><path d="M529.3 258.3L590.1 291" stroke-width="4.05" stroke-dasharray="22.6 19.855" stroke-dashoffset="10.09"/><path d="M590.1 291L651 326.5" stroke-width="3.97" stroke-dasharray="22.6 19.855" stroke-dashoffset="36.73"/><path d="M651 326.5L711.9 364.8" stroke-width="3.89" stroke-dasharray="22.6 19.855" stroke-dashoffset="22.31"/><path d="M711.9 364.8L772.8 405.6" stroke-width="3.82" stroke-dasharray="22.6 19.855" stroke-dashoffset="9.32"/><path d="M772.8 405.6L833.7 448.7" stroke-width="3.76" stroke-dasharray="22.6 19.855" stroke-dashoffset="40.19"/><path d="M833.7 448.7L894.5 493.5" stroke-width="3.71" stroke-dasharray="22.6 19.855" stroke-dashoffset="29.85"/><path d="M894.5 493.5L955.4 539.3" stroke-width="3.68" stroke-dasharray="22.6 19.855" stroke-dashoffset="20.52"/><path d="M955.4 539.3L1016.3 585.3" stroke-width="3.67" stroke-dasharray="22.6 19.855" stroke-dashoffset="11.8"/><path d="M1016.3 585.3L1077.2 630.5" stroke-width="3.69" stroke-dasharray="22.6 19.855" stroke-dashoffset="3.19"/><path d="M1077.2 630.5L1138 673.9" stroke-width="3.75" stroke-dasharray="22.6 19.855" stroke-dashoffset="36.55"/><path d="M1138 673.9L1198.9 714.5" stroke-width="3.83" stroke-dasharray="22.6 19.855" stroke-dashoffset="26.4"/><path d="M1198.9 714.5L1259.8 751.7" stroke-width="3.93" stroke-dasharray="22.6 19.855" stroke-dashoffset="14.68"/><path d="M1259.8 751.7L1320.7 784.9" stroke-width="4.04" stroke-dasharray="22.6 19.855" stroke-dashoffset="1.09"/><path d="M1320.7 784.9L1381.6 814.5" stroke-width="4.14" stroke-dasharray="22.6 19.855" stroke-dashoffset="28.02"/><path d="M1381.6 814.5L1442.4 841.2" stroke-width="4.21" stroke-dasharray="22.6 19.855" stroke-dashoffset="10.79"/><path d="M1442.4 841.2L1503.3 866.5" stroke-width="4.25" stroke-dasharray="22.6 19.855" stroke-dashoffset="34.8"/><path d="M1503.3 866.5L1564.2 892.9" stroke-width="4.22" stroke-dasharray="22.6 19.855" stroke-dashoffset="15.83"/></g>
<polygon points="407.5,193.7 409.62,199.18 415.49,199.5 410.92,203.21 412.44,208.89 407.5,205.7 402.56,208.89 404.08,203.21 399.51,199.5 405.38,199.18" fill="#fff" stroke="#9400ff" stroke-width="2" stroke-opacity="0.55"/><polygon points="468.38,220.81 470.49,226.29 476.37,226.61 471.8,230.32 473.32,236 468.38,232.81 463.44,236 464.96,230.32 460.39,226.61 466.26,226.29" fill="#fff" stroke="#9400ff" stroke-width="2" stroke-opacity="0.55"/><polygon points="529.26,250.67 531.37,256.15 537.25,256.47 532.68,260.18 534.2,265.86 529.26,262.67 524.32,265.86 525.83,260.18 521.27,256.47 527.14,256.15" fill="#fff" stroke="#9400ff" stroke-width="2" stroke-opacity="0.55"/><polygon points="590.14,283.36 592.25,288.85 598.13,289.16 593.56,292.87 595.07,298.55 590.14,295.36 585.2,298.55 586.71,292.87 582.15,289.16 588.02,288.85" fill="#fff" stroke="#9400ff" stroke-width="2" stroke-opacity="0.55"/><polygon points="651.02,318.89 653.13,324.38 659,324.7 654.44,328.41 655.95,334.09 651.02,330.89 646.08,334.09 647.59,328.41 643.03,324.7 648.9,324.38" fill="#fff" stroke="#9400ff" stroke-width="2" stroke-opacity="0.55"/><polygon points="711.89,357.19 714.01,362.68 719.88,362.99 715.32,366.7 716.83,372.38 711.89,369.19 706.96,372.38 708.47,366.7 703.91,362.99 709.78,362.68" fill="#fff" stroke="#9400ff" stroke-width="2" stroke-opacity="0.55"/><polygon points="772.77,398.04 774.89,403.53 780.76,403.85 776.2,407.56 777.71,413.24 772.77,410.04 767.84,413.24 769.35,407.56 764.78,403.85 770.66,403.53" fill="#fff" stroke="#9400ff" stroke-width="2" stroke-opacity="0.55"/><polygon points="833.65,441.12 835.77,446.61 841.64,446.92 837.08,450.63 838.59,456.32 833.65,453.12 828.72,456.32 830.23,450.63 825.66,446.92 831.54,446.61" fill="#fff" stroke="#9400ff" stroke-width="2" stroke-opacity="0.55"/><polygon points="894.53,485.9 896.65,491.39 902.52,491.71 897.96,495.42 899.47,501.1 894.53,497.9 889.59,501.1 891.11,495.42 886.54,491.71 892.42,491.39" fill="#fff" stroke="#9400ff" stroke-width="2" stroke-opacity="0.55"/><polygon points="955.41,531.71 957.53,537.2 963.4,537.52 958.83,541.23 960.35,546.91 955.41,543.71 950.47,546.91 951.99,541.23 947.42,537.52 953.29,537.2" fill="#fff" stroke="#9400ff" stroke-width="2" stroke-opacity="0.55"/><polygon points="1016.29,577.7 1018.41,583.19 1024.28,583.51 1019.71,587.21 1021.23,592.9 1016.29,589.7 1011.35,592.9 1012.87,587.21 1008.3,583.51 1014.17,583.19" fill="#fff" stroke="#9400ff" stroke-width="2" stroke-opacity="0.55"/><polygon points="1077.17,622.9 1079.28,628.38 1085.16,628.7 1080.59,632.41 1082.11,638.09 1077.17,634.9 1072.23,638.09 1073.74,632.41 1069.18,628.7 1075.05,628.38" fill="#fff" stroke="#9400ff" stroke-width="2" stroke-opacity="0.55"/><polygon points="1138.05,666.28 1140.16,671.77 1146.04,672.09 1141.47,675.8 1142.98,681.48 1138.05,678.28 1133.11,681.48 1134.62,675.8 1130.06,672.09 1135.93,671.77" fill="#fff" stroke="#9400ff" stroke-width="2" stroke-opacity="0.55"/><polygon points="1198.93,706.92 1201.04,712.4 1206.92,712.72 1202.35,716.43 1203.86,722.11 1198.93,718.92 1193.99,722.11 1195.5,716.43 1190.94,712.72 1196.81,712.4" fill="#fff" stroke="#9400ff" stroke-width="2" stroke-opacity="0.55"/><polygon points="1259.81,744.06 1261.92,749.54 1267.79,749.86 1263.23,753.57 1264.74,759.25 1259.81,756.06 1254.87,759.25 1256.38,753.57 1251.82,749.86 1257.69,749.54" fill="#fff" stroke="#9400ff" stroke-width="2" stroke-opacity="0.55"/><polygon points="1320.68,777.34 1322.8,782.83 1328.67,783.14 1324.11,786.85 1325.62,792.54 1320.68,789.34 1315.75,792.54 1317.26,786.85 1312.7,783.14 1318.57,782.83" fill="#fff" stroke="#9400ff" stroke-width="2" stroke-opacity="0.55"/><polygon points="1381.56,806.92 1383.68,812.41 1389.55,812.73 1384.99,816.43 1386.5,822.12 1381.56,818.92 1376.63,822.12 1378.14,816.43 1373.57,812.73 1379.45,812.41" fill="#fff" stroke="#9400ff" stroke-width="2" stroke-opacity="0.55"/><polygon points="1442.44,833.6 1444.56,839.09 1450.43,839.4 1445.87,843.11 1447.38,848.8 1442.44,845.6 1437.5,848.8 1439.02,843.11 1434.45,839.4 1440.33,839.09" fill="#fff" stroke="#9400ff" stroke-width="2" stroke-opacity="0.55"/><polygon points="1503.32,858.93 1505.44,864.42 1511.31,864.74 1506.74,868.44 1508.26,874.13 1503.32,870.93 1498.38,874.13 1499.9,868.44 1495.33,864.74 1501.21,864.42" fill="#fff" stroke="#9400ff" stroke-width="2" stroke-opacity="0.55"/><polygon points="1564.2,885.33 1566.32,890.82 1572.19,891.13 1567.62,894.84 1569.14,900.53 1564.2,897.33 1559.26,900.53 1560.78,894.84 1556.21,891.13 1562.08,890.82" fill="#fff" stroke="#9400ff" stroke-width="2" stroke-opacity="0.55"/>
</g>
<g stroke="#000" fill="none">
<rect x="244.2" y="46.6" width="1536.5" height="1238.2" stroke-width="4.8"/>
<path d="M334.55 1284.8V1271.8M424.9 1284.8V1260.3M515.25 1284.8V1271.8M605.6 1284.8V1260.3M695.95 1284.8V1271.8M786.3 1284.8V1260.3M876.65 1284.8V1271.8M967 1284.8V1260.3M1057.35 1284.8V1271.8M1147.7 1284.8V1260.3M1238.05 1284.8V1271.8M1328.4 1284.8V1260.3M1418.75 1284.8V1271.8M1509.1 1284.8V1260.3M1599.45 1284.8V1271.8M1689.8 1284.8V1260.3M244.2 170.42H257.2M244.2 294.24H268.7M244.2 418.06H257.2M244.2 541.88H268.7M244.2 665.7H257.2M244.2 789.52H268.7M244.2 913.34H257.2M244.2 1037.16H268.7M244.2 1160.98H257.2" stroke-width="4.5"/>
</g>
<g font-family="'Liberation Serif', 'Times New Roman', Times, serif" fill="#000" style="font-kerning:none" stroke="#fff" stroke-width="0.3" paint-order="fill stroke">
<text transform="translate(106.38 67) scale(0.96 1)" font-size="66.7">0.50</text>
<text transform="translate(106.45 314.64) scale(0.96 1)" font-size="66.7">0.25</text>
<text transform="translate(106.38 562.28) scale(0.96 1)" font-size="66.7">0.00</text>
<text transform="translate(85.12 809.92) scale(0.96 1)" font-size="66.7">-0.25</text>
<text transform="translate(85.06 1057.56) scale(0.96 1)" font-size="66.7">-0.50</text>
<text transform="translate(85.12 1305.2) scale(0.96 1)" font-size="66.7">-0.75</text>
<text transform="translate(177.57 1361.3) scale(0.96 1)" font-size="66.7">-0.25</text>
<text transform="translate(358.24 1361.3) scale(0.96 1)" font-size="66.7">-0.20</text>
<text transform="translate(538.97 1361.3) scale(0.96 1)" font-size="66.7">-0.15</text>
<text transform="translate(719.64 1361.3) scale(0.96 1)" font-size="66.7">-0.10</text>
<text transform="translate(900.37 1361.3) scale(0.96 1)" font-size="66.7">-0.05</text>
<text transform="translate(1091.67 1361.3) scale(0.96 1)" font-size="66.7">0.00</text>
<text transform="translate(1272.4 1361.3) scale(0.96 1)" font-size="66.7">0.05</text>
<text transform="translate(1453.07 1361.3) scale(0.96 1)" font-size="66.7">0.10</text>
<text transform="translate(1633.8 1361.3) scale(0.96 1)" font-size="66.7">0.15</text>
<text transform="translate(706.63 1460) scale(0.998 1)" font-size="65">Rotation angle </text><text transform="translate(1106.99 1460) scale(1.0122 1)" font-size="65" font-style="italic">ϕ</text><text transform="translate(1134.38 1477.3) scale(1.1579 1)" font-size="42.5" font-style="italic">p </text><text transform="translate(1174.5 1460) scale(0.9967 1)" font-size="65">/</text><text transform="translate(1190.61 1460) scale(1.0118 1)" font-size="65">(rad)</text>
<text transform="translate(56.2 849.91) rotate(-90) scale(0.9756 1)" font-size="66">Sliding ratio </text><text transform="translate(56.2 509.93) rotate(-90) scale(1.1548 1)" font-size="66" font-style="italic">δ</text>
<text transform="translate(609.01 941.4) scale(1.0177 1)" font-size="59.5" font-style="italic">m</text><text transform="translate(650.84 941.4) scale(0.9976 1)" font-size="59.5">=2.0: </text><text transform="translate(932.85 941.4) scale(0.9924 1)" font-size="59.5">pinion, </text><text transform="translate(1258.01 941.4) scale(0.9769 1)" font-size="59.5">face gear</text>
<text transform="translate(609.01 1013.15) scale(1.0177 1)" font-size="59.5" font-style="italic">m</text><text transform="translate(650.84 1013.15) scale(0.9976 1)" font-size="59.5">=2.5: </text><text transform="translate(932.85 1013.15) scale(0.9924 1)" font-size="59.5">pinion, </text><text transform="translate(1258.01 1013.15) scale(0.9769 1)" font-size="59.5">face gear</text>
<text transform="translate(609.01 1084.9) scale(1.0177 1)" font-size="59.5" font-style="italic">m</text><text transform="translate(650.84 1084.9) scale(0.9976 1)" font-size="59.5">=3.0: </text><text transform="translate(932.85 1084.9) scale(0.9924 1)" font-size="59.5">pinion, </text><text transform="translate(1258.01 1084.9) scale(0.9769 1)" font-size="59.5">face gear</text>
<text transform="translate(609.01 1156.65) scale(1.0177 1)" font-size="59.5" font-style="italic">m</text><text transform="translate(650.84 1156.65) scale(0.9976 1)" font-size="59.5">=3.5: </text><text transform="translate(932.85 1156.65) scale(0.9924 1)" font-size="59.5">pinion, </text><text transform="translate(1258.01 1156.65) scale(0.9769 1)" font-size="59.5">face gear</text>
<text transform="translate(609.01 1228.4) scale(1.0177 1)" font-size="59.5" font-style="italic">m</text><text transform="translate(650.84 1228.4) scale(0.9976 1)" font-size="59.5">=4.0: </text><text transform="translate(932.85 1228.4) scale(0.9924 1)" font-size="59.5">pinion, </text><text transform="translate(1258.01 1228.4) scale(0.9769 1)" font-size="59.5">face gear</text>
</g>
<g fill="none">
<path d="M787.3 920.8H921.3" stroke="#000000" stroke-width="4.7"/>
<rect x="847.4" y="913.9" width="13.8" height="13.8" fill="#000000" stroke="none"/>
<path d="M1109 920.8H1244.5" stroke="#000000" stroke-width="4.7" stroke-dasharray="23.5 19.5"/>
<rect x="1169.5" y="913.3" width="15" height="15" fill="#fff" stroke="#000000" stroke-width="2" stroke-opacity="0.55"/>
<path d="M787.3 992.55H921.3" stroke="#ff0000" stroke-width="4.7"/>
<circle cx="854.3" cy="992.55" r="7.54" fill="#ff0000" stroke="none"/>
<path d="M1109 992.55H1244.5" stroke="#ff0000" stroke-width="4.7" stroke-dasharray="23.5 19.5"/>
<circle cx="1177" cy="992.55" r="8.2" fill="#fff" stroke="#ff0000" stroke-width="2" stroke-opacity="0.55"/>
<path d="M787.3 1064.3H921.3" stroke="#0000ff" stroke-width="4.7"/>
<polygon points="854.3,1056.02 863.04,1070.74 845.56,1070.74" fill="#0000ff" stroke="none"/>
<path d="M1109 1064.3H1244.5" stroke="#0000ff" stroke-width="4.7" stroke-dasharray="23.5 19.5"/>
<polygon points="1177,1055.3 1186.5,1071.3 1167.5,1071.3" fill="#fff" stroke="#0000ff" stroke-width="2" stroke-opacity="0.55"/>
<path d="M787.3 1136.05H921.3" stroke="#008000" stroke-width="4.7"/>
<polygon points="854.3,1127.31 863.04,1136.05 854.3,1144.79 845.56,1136.05" fill="#008000" stroke="none"/>
<path d="M1109 1136.05H1244.5" stroke="#008000" stroke-width="4.7" stroke-dasharray="23.5 19.5"/>
<polygon points="1177,1126.55 1186.5,1136.05 1177,1145.55 1167.5,1136.05" fill="#fff" stroke="#008000" stroke-width="2" stroke-opacity="0.55"/>
<path d="M787.3 1207.8H921.3" stroke="#9400ff" stroke-width="4.7"/>
<polygon points="854.3,1200.81 856.25,1205.86 861.65,1206.15 857.45,1209.56 858.84,1214.79 854.3,1211.85 849.76,1214.79 851.15,1209.56 846.95,1206.15 852.35,1205.86" fill="#9400ff" stroke="none"/>
<path d="M1109 1207.8H1244.5" stroke="#9400ff" stroke-width="4.7" stroke-dasharray="23.5 19.5"/>
<polygon points="1177,1200.2 1179.12,1205.69 1184.99,1206 1180.42,1209.71 1181.94,1215.4 1177,1212.2 1172.06,1215.4 1173.58,1209.71 1169.01,1206 1174.88,1205.69" fill="#fff" stroke="#9400ff" stroke-width="2" stroke-opacity="0.55"/>
</g>
</svg>
</body></html>
